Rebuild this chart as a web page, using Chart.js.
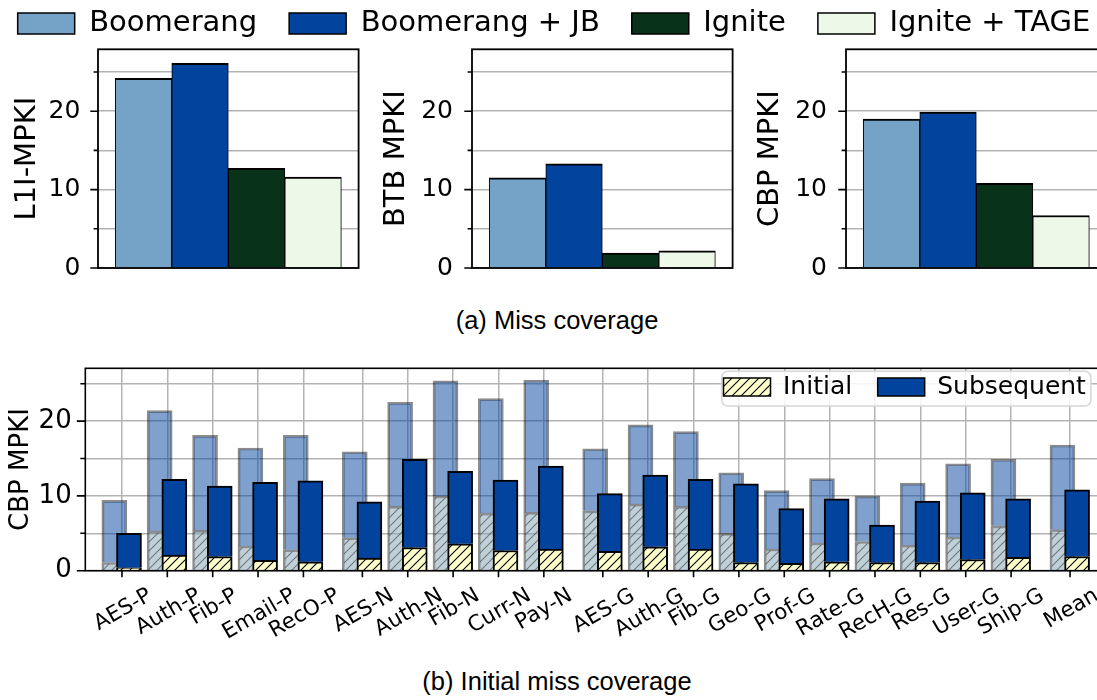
<!DOCTYPE html>
<html>
<head>
<meta charset="utf-8">
<script src="https://cdn.jsdelivr.net/npm/chart.js@4.4.1/dist/chart.umd.min.js"></script>
<style>
html, body { margin: 0; padding: 0; background: #fff; overflow: hidden; width: 1097px; height: 700px; }
#root { position: relative; width: 1097px; height: 700px; overflow: hidden; background: #fff; }
.box { position: absolute; }
.cap { position: absolute; left: 0; width: 1114px; text-align: center; font-family: 'Liberation Sans', Arial, sans-serif; font-size: 25.5px; line-height: 25.5px; color: #000; white-space: nowrap; }
</style>
</head>
<body>
<div id="root">
  <div class="box" id="wTop1"><canvas></canvas></div>
  <div class="box" id="wTop2"><canvas></canvas></div>
  <div class="box" id="wTop3"><canvas></canvas></div>
  <div class="box" id="wBottom"><canvas></canvas></div>
  <div class="box" id="wLegTop"><canvas></canvas></div>
  <div class="box" id="wLegBottom"><canvas></canvas></div>
  <div class="cap" style="top:308.4px">(a) Miss coverage</div>
  <div class="cap" style="top:668.9px">(b) Initial miss coverage</div>
</div>
<script>
// ---------------- DATA ----------------
const seriesNames = ['Boomerang', 'Boomerang + JB', 'Ignite', 'Ignite + TAGE'];
const l1iMPKI = [24.2, 26.1, 12.7, 11.6];
const btbMPKI = [11.5, 13.3, 1.9, 2.2];
const cbpMPKI = [19.0, 19.9, 10.8, 6.7];

const workloads = ['AES-P', 'Auth-P', 'Fib-P', 'Email-P', 'RecO-P',
  'AES-N', 'Auth-N', 'Fib-N', 'Curr-N', 'Pay-N',
  'AES-G', 'Auth-G', 'Fib-G', 'Geo-G', 'Prof-G', 'Rate-G', 'RecH-G', 'Res-G', 'User-G', 'Ship-G',
  'Mean'];
const workloadGroups = ['P', 'P', 'P', 'P', 'P',
  'N', 'N', 'N', 'N', 'N',
  'G', 'G', 'G', 'G', 'G', 'G', 'G', 'G', 'G', 'G',
  'M'];
// Boomerang (background, translucent) CBP MPKI
const boomerangTotal   = [9.4, 21.4, 18.1, 16.4, 18.1, 15.9, 22.5, 25.4, 23.0, 25.5, 16.3, 19.5, 18.6, 13.1, 10.7, 12.3, 10.0, 11.7, 14.3, 14.9, 16.8];
const boomerangInitial = [1.1, 5.3, 5.4, 3.3, 2.8, 4.4, 8.6, 10.0, 7.7, 7.8, 8.0, 8.9, 8.6, 5.0, 2.9, 3.7, 3.9, 3.4, 4.5, 6.0, 5.5];
// Boomerang + JB (foreground) CBP MPKI
const jbTotal   = [5.0, 12.2, 11.3, 11.8, 12.0, 9.2, 14.9, 13.3, 12.1, 14.0, 10.3, 12.8, 12.2, 11.6, 8.3, 9.6, 6.1, 9.3, 10.4, 9.6, 10.8];
const jbInitial = [0.4, 2.1, 1.9, 1.4, 1.2, 1.7, 3.1, 3.6, 2.7, 2.9, 2.6, 3.2, 2.9, 1.1, 1.0, 1.2, 1.1, 1.1, 1.5, 1.8, 1.9];
const bottomLegendNames = ['Initial', 'Subsequent'];
const majorTickLabels = [0, 10, 20];

// ---------------- STYLE ----------------
Chart.defaults.font.family = "'DejaVu Sans', sans-serif";
Chart.defaults.color = '#000';
const TOP_COLORS = ['#75a3c8', '#02439e', '#08321a', '#edf8e9'];
const DARK_BLUE = '#02439e';
const GRID = '#b3b3b3';
const GROUP_GAP = 0.3;
const BACK_OFF = -0.168, FRONT_OFF = 0.155;
const LABEL_ROT = 30;

function hatch(bg, line, lw, s) {
  const c = document.createElement('canvas');
  c.width = s; c.height = s;
  const x = c.getContext('2d');
  x.fillStyle = bg; x.fillRect(0, 0, s, s);
  x.strokeStyle = line; x.lineWidth = lw;
  x.beginPath();
  x.moveTo(0, s); x.lineTo(s, 0);
  x.moveTo(-s / 2, s / 2); x.lineTo(s / 2, -s / 2);
  x.moveTo(s / 2, s * 1.5); x.lineTo(s * 1.5, s / 2);
  x.stroke();
  return x.createPattern(c, 'repeat');
}
const hatchYellow = hatch('#ffffcc', '#000000', 1.1, 9);
const hatchGray = hatch('rgba(140,170,185,0.55)', 'rgba(60,60,60,0.6)', 1.1, 9);

// positions of workload bars with gaps between groups
const positions = [];
(function () {
  let g = 0;
  workloadGroups.forEach((grp, i) => {
    if (i > 0 && grp !== workloadGroups[i - 1]) g++;
    positions.push(i + GROUP_GAP * g);
  });
})();

function framePlugin(o) {
  return {
    id: 'frameTicks',
    afterDatasetsDraw(chart) {
      const { ctx, chartArea: a, scales } = chart;
      ctx.save();
      ctx.strokeStyle = '#000';
      ctx.lineWidth = o.lw;
      ctx.strokeRect(a.left, a.top, a.right - a.left, a.bottom - a.top);
      ctx.lineWidth = o.tlw;
      ctx.beginPath();
      scales.y.ticks.forEach(t => {
        const y = scales.y.getPixelForValue(t.value);
        const len = majorTickLabels.includes(t.value) ? o.major : o.minor;
        ctx.moveTo(a.left - len, y); ctx.lineTo(a.left, y);
      });
      if (o.xTicks) {
        positions.forEach(p => {
          const x = scales.x.getPixelForValue(p);
          ctx.moveTo(x, a.bottom); ctx.lineTo(x, a.bottom + o.xTicks);
        });
      }
      ctx.stroke();
      ctx.restore();
    }
  };
}

function place(id, left, top, width, height) {
  const w = document.getElementById(id);
  Object.assign(w.style, { left: left + 'px', top: top + 'px', width: width + 'px', height: height + 'px' });
  return w.querySelector('canvas');
}

// ---------------- TOP CHARTS ----------------
const TOP_AXIS_W = 98, TOP_Y = 20, TOP_H = 280;
function topChart(id, values, title, plotLeft, plotRight, tickPad, titlePad) {
  const left = plotLeft - TOP_AXIS_W;
  const width = plotRight + 3 - left;
  const cv = place(id, left, TOP_Y, width, TOP_H);
  new Chart(cv, {
    type: 'bar',
    data: {
      datasets: [{
        label: title,
        data: values.map((v, i) => ({ x: i, y: v })),
        backgroundColor: TOP_COLORS,
        borderColor: '#000',
        borderWidth: { top: 2, left: 1, right: 1, bottom: 0 },
        categoryPercentage: 1,
        barPercentage: 1
      }]
    },
    options: {
      responsive: true, maintainAspectRatio: false, animation: false, devicePixelRatio: 1, events: [],
      layout: { padding: { top: 49.3 - TOP_Y, bottom: TOP_Y + TOP_H - 268, left: 0, right: width - (plotRight - left) } },
      plugins: { legend: { display: false }, tooltip: { enabled: false } },
      scales: {
        x: { type: 'linear', display: false, min: -0.805, max: 3.805, offset: false, grid: { offset: false } },
        y: {
          min: 0, max: 27.9,
          border: { display: false },
          grid: { color: GRID, lineWidth: 1.5, drawTicks: false },
          ticks: {
            stepSize: 5, includeBounds: false, autoSkip: false, padding: tickPad,
            font: { size: 25 }, color: '#000',
            callback: v => majorTickLabels.includes(v) ? String(v) : ''
          },
          title: { display: true, text: title, font: { size: 29 }, color: '#000', padding: { top: titlePad, bottom: 0 } },
          afterFit: s => { s.width = TOP_AXIS_W; s.paddingTop = 0; s.paddingBottom = 0; }
        }
      }
    },
    plugins: [framePlugin({ lw: 1.8, tlw: 1.6, major: 7.7, minor: 4.4 })]
  });
}
topChart('wTop1', l1iMPKI, 'L1I-MPKI', 97.7, 358.3, 17.7, 10.4);
topChart('wTop2', btbMPKI, 'BTB MPKI', 471.7, 732.3, 19, 4.7);
topChart('wTop3', cbpMPKI, 'CBP MPKI', 845.7, 1106.3, 19, 4.6);

// ---------------- TOP LEGEND ----------------
(function () {
  const cv = place('wLegTop', 553.5 - 600, -22.7, 1200, 130);
  new Chart(cv, {
    type: 'bar',
    data: {
      datasets: seriesNames.map((n, i) => ({ label: n, data: [], backgroundColor: TOP_COLORS[i], borderColor: '#000', borderWidth: 1.5 }))
    },
    options: {
      responsive: true, maintainAspectRatio: false, animation: false, devicePixelRatio: 1, events: [],
      layout: { padding: 0 },
      scales: { x: { display: false }, y: { display: false } },
      plugins: {
        tooltip: { enabled: false },
        legend: { display: true, position: 'top', align: 'center',
          labels: { boxWidth: 57, boxHeight: 21, padding: 32, font: { size: 29 }, color: '#000' } }
      }
    }
  });
})();

// ---------------- BOTTOM CHART ----------------
(function () {
  const TOP = 340, H = 320, W = 1110, AXIS_W = 85.3;
  const cv = place('wBottom', 0, TOP, W, H);
  const xLabelPlugin = {
    id: 'xLabels',
    afterDraw(chart) {
      const { ctx, chartArea: a, scales: { x } } = chart;
      const th = LABEL_ROT * Math.PI / 180;
      ctx.save();
      ctx.font = "21.5px 'DejaVu Sans'";
      ctx.fillStyle = '#000';
      ctx.textAlign = 'left';
      ctx.textBaseline = 'alphabetic';
      workloads.forEach((name, i) => {
        const px = x.getPixelForValue(positions[i]);
        const m = ctx.measureText(name);
        const L = m.width, asc = m.actualBoundingBoxAscent, desc = m.actualBoundingBoxDescent;
        const ox = px - (L * Math.cos(th) + (desc - asc) * Math.sin(th)) / 2;
        const oy = a.bottom + 14.5 + L * Math.sin(th) + asc * Math.cos(th);
        ctx.save();
        ctx.translate(ox, oy);
        ctx.rotate(-th);
        ctx.fillText(name, 0, 0);
        ctx.restore();
      });
      ctx.restore();
    }
  };
  const common = { barThickness: 25, grouped: false, borderWidth: 2 };
  new Chart(cv, {
    type: 'bar',
    data: {
      datasets: [
        Object.assign({ label: 'Boomerang initial', stack: 'boom', order: 1,
          data: positions.map((p, i) => ({ x: p + BACK_OFF, y: boomerangInitial[i] })),
          backgroundColor: hatchGray, borderColor: 'rgba(0,0,0,0.45)' }, common),
        Object.assign({ label: 'Boomerang subsequent', stack: 'boom', order: 1,
          data: positions.map((p, i) => ({ x: p + BACK_OFF, y: boomerangTotal[i] - boomerangInitial[i] })),
          backgroundColor: 'rgba(2,67,158,0.5)', borderColor: 'rgba(0,0,0,0.45)' }, common),
        Object.assign({ label: bottomLegendNames[0], stack: 'jb', order: 0,
          data: positions.map((p, i) => ({ x: p + FRONT_OFF, y: jbInitial[i] })),
          backgroundColor: hatchYellow, borderColor: '#000' }, common),
        Object.assign({ label: bottomLegendNames[1], stack: 'jb', order: 0,
          data: positions.map((p, i) => ({ x: p + FRONT_OFF, y: jbTotal[i] - jbInitial[i] })),
          backgroundColor: DARK_BLUE, borderColor: '#000' }, common)
      ]
    },
    options: {
      responsive: true, maintainAspectRatio: false, animation: false, devicePixelRatio: 1, events: [],
      layout: { padding: { top: 368.3 - TOP, bottom: TOP + H - 570.7, left: 0, right: W - 1106.7 } },
      plugins: { legend: { display: false }, tooltip: { enabled: false } },
      scales: {
        x: {
          type: 'linear', min: -0.808, max: 21.708, offset: false,
          border: { display: false },
          grid: { display: true, color: GRID, lineWidth: 1.5, drawTicks: false, offset: false },
          ticks: { display: false, autoSkip: false },
          afterBuildTicks: s => { s.ticks = positions.map(v => ({ value: v })); },
          afterFit: s => { s.height = 0; s.paddingLeft = 0; s.paddingRight = 0; }
        },
        y: {
          stacked: true, min: 0, max: 27.06,
          border: { display: false },
          grid: { color: GRID, lineWidth: 1.5, drawTicks: false },
          ticks: {
            stepSize: 5, includeBounds: false, autoSkip: false, padding: 13.6,
            font: { size: 26 }, color: '#000',
            callback: v => majorTickLabels.includes(v) ? String(v) : ''
          },
          title: { display: true, text: 'CBP MPKI', font: { size: 26 }, color: '#000', padding: { top: 6.1, bottom: 0 } },
          afterFit: s => { s.width = AXIS_W; s.paddingTop = 0; s.paddingBottom = 0; }
        }
      }
    },
    plugins: [framePlugin({ lw: 1.6, tlw: 1.6, major: 8.5, minor: 5, xTicks: 6.5 }), xLabelPlugin]
  });
})();

// ---------------- BOTTOM LEGEND ----------------
(function () {
  const PAD = 25.5;
  const cv = place('wLegBottom', 723.5 - PAD, 374.2 - PAD, 440, 110);
  const frame = {
    id: 'legendFrame',
    beforeDraw(chart) {
      const hb = chart.legend && chart.legend.legendHitBoxes;
      if (!hb || !hb.length) return;
      const last = hb[hb.length - 1];
      const l = hb[0].left - 1.8, r = last.left + last.width + 5;
      const t = hb[0].top - 3.2, b = hb[0].top + hb[0].height + 6.5;
      const ctx = chart.ctx;
      ctx.save();
      ctx.beginPath();
      ctx.roundRect(l, t, r - l, b - t, 6);
      ctx.fillStyle = 'rgba(255,255,255,0.85)';
      ctx.fill();
      ctx.strokeStyle = '#d6d6d6';
      ctx.lineWidth = 1.5;
      ctx.stroke();
      ctx.restore();
    }
  };
  new Chart(cv, {
    type: 'bar',
    data: {
      datasets: [
        { label: bottomLegendNames[0], data: [], backgroundColor: hatchYellow, borderColor: '#000', borderWidth: 1.5 },
        { label: bottomLegendNames[1], data: [], backgroundColor: DARK_BLUE, borderColor: '#000', borderWidth: 1.5 }
      ]
    },
    options: {
      responsive: true, maintainAspectRatio: false, animation: false, devicePixelRatio: 1, events: [],
      layout: { padding: 0 },
      scales: { x: { display: false }, y: { display: false } },
      plugins: {
        tooltip: { enabled: false },
        legend: { display: true, position: 'top', align: 'start',
          labels: { boxWidth: 47, boxHeight: 18, padding: PAD, font: { size: 25 }, color: '#000' } }
      }
    },
    plugins: [frame]
  });
})();
</script>
</body>
</html>
